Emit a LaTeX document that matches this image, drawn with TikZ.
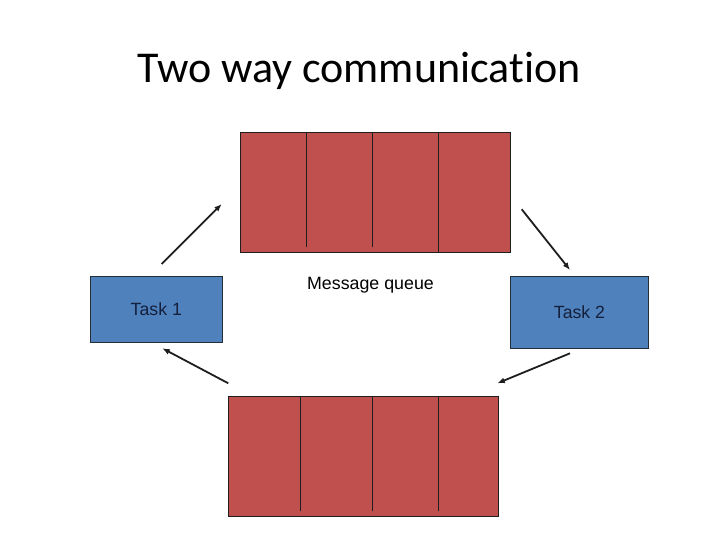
\documentclass[tikz,border=0pt]{standalone}
\usepackage{fontspec}
\setmainfont{Liberation Sans}
\newfontfamily\titlefont[Ligatures=NoCommon]{Carlito}
\usetikzlibrary{positioning, arrows.meta}
\definecolor{queuered}{HTML}{C0504D}
\definecolor{taskblue}{HTML}{4F81BD}
\definecolor{tasktext}{HTML}{14203C}
\definecolor{edge}{HTML}{1E1E1E}

\begin{document}
\begin{tikzpicture}[x=1pt, y=-1pt,
    queuebox/.style={draw=edge, fill=queuered, line width=0.9pt, minimum width=270pt, minimum height=120pt, inner sep=0pt},
    taskbox/.style={draw=edge!85!taskblue, fill=taskblue, line width=0.8pt, inner sep=0pt, text=tasktext, font=\fontsize{17.7}{20}\selectfont},
    flow/.style={-{Latex[length=7.5pt,width=6pt]}, line width=1.8pt, edge}]
    \useasboundingbox (0,0) rectangle (720,540);
    % title
    \node[font=\titlefont\fontsize{44}{50}\selectfont] (title) at (359,71) {Two way communication};
    % queues
    \node[queuebox] (qtop) at (375.5,192.3) {};
    \node[queuebox] (qbottom) at (363.3,456.2) {};
    \foreach \x in {306.7, 372.3}
      \draw[edge, line width=0.8pt] (\x,132.3) -- (\x,246.7);
    \draw[edge, line width=0.8pt] (438.3,132.3) -- (438.3,252.3);
    \foreach \x in {300.3, 372.3, 438.3}
      \draw[edge, line width=0.8pt] (\x,396.3) -- (\x,510.7);
    \node[font=\fontsize{17.8}{20}\selectfont] (qlabel) at (370.5,285.5) {Message queue};
    % tasks
    \node[taskbox, minimum width=132.7pt, minimum height=66.4pt] (task1) at (156.3,309.5) {Task 1};
    \node[taskbox, minimum width=137.6pt, minimum height=72pt] (task2) at (579.5,312.3) {Task 2};
    % arrows
    \coordinate (t1up) at (161.7,264);
    \coordinate (qtopin) at (221.7,204);
    \coordinate (qtopout) at (521.7,209.3);
    \coordinate (t2in) at (570,270);
    \coordinate (t2down) at (570,353.3);
    \coordinate (qbotin) at (497.3,383.3);
    \coordinate (qbotout) at (228.3,383.3);
    \coordinate (t1in) at (162.3,348.3);
    \draw[flow] (t1up) -- (qtopin);
    \draw[flow] (qtopout) -- (t2in);
    \draw[flow] (t2down) -- (qbotin);
    \draw[flow] (qbotout) -- (t1in);
\end{tikzpicture}
\end{document}
